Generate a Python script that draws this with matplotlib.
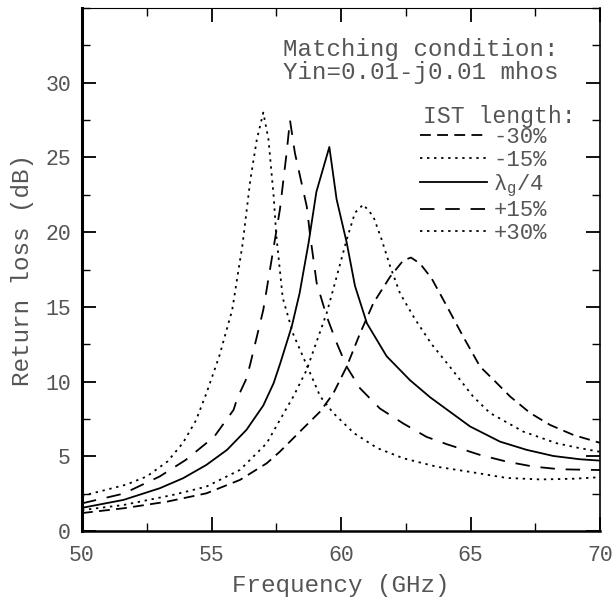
import numpy as np
import matplotlib
matplotlib.use('Agg')
import matplotlib.pyplot as plt
from matplotlib.ticker import MultipleLocator

# return loss curves (frequency in GHz, return loss in dB)
f_p30 = [50.0, 50.8, 51.7, 52.5, 53.3, 53.9, 54.4, 54.8, 55.3, 55.8, 56.2, 56.5, 56.75, 57.0,
         57.2, 57.4, 57.5, 57.75, 58.15, 58.7, 59.2, 59.7, 60.5, 61.4, 62.4, 63.7, 65.0, 66.4,
         67.7, 69.0, 70.0]
rl_p30 = [2.35, 2.7, 3.1, 3.65, 4.65, 5.9, 7.4, 9.2, 11.7, 14.8, 19.2, 23.5, 26.2, 28.0,
          26.2, 22.4, 19.8, 15.6, 13.2, 11.0, 9.0, 7.9, 6.55, 5.55, 4.87, 4.3, 3.95, 3.55,
          3.45, 3.5, 3.6]

f_p15 = [50.0, 51.6, 53.0, 54.0, 55.1, 55.85, 56.0, 56.35, 56.5, 57.0, 57.32, 57.64, 57.9, 58.03,
         58.22, 58.68, 58.8, 59.06, 59.45, 59.83, 60.22, 60.73, 61.5, 62.4, 63.3, 64.1, 65.37,
         66.4, 67.43, 68.46, 70.0]
rl_p15 = [1.85, 2.5, 3.65, 4.75, 6.3, 8.1, 8.9, 10.2, 11.2, 14.8, 18.15, 21.5, 25.3, 27.5,
          25.3, 21.7, 19.9, 16.6, 14.35, 12.6, 11.0, 9.56, 8.2, 7.2, 6.3, 5.8, 5.09,
          4.64, 4.31, 4.13, 4.08]

f_lam = [50.0, 51.6, 53.0, 53.9, 54.8, 55.6, 56.35, 57.0, 57.4, 57.65, 58.1, 58.4, 58.75,
         59.05, 59.55, 59.83, 60.22, 60.54, 61.0, 61.76, 62.66, 63.44, 64.98, 66.14, 67.17,
         68.2, 69.23, 70.0]
rl_lam = [1.55, 2.08, 2.86, 3.53, 4.42, 5.43, 6.77, 8.4, 9.9, 11.2, 13.7, 15.9, 19.3,
          22.7, 25.7, 22.2, 19.3, 16.4, 13.9, 11.7, 10.1, 8.95, 7.0, 5.98, 5.43,
          5.02, 4.8, 4.71]

f_m15 = [50.0, 51.6, 53.5, 54.8, 56.1, 57.13, 57.64, 58.16, 58.68, 59.45, 59.83, 60.22, 60.54,
         60.86, 61.25, 61.57, 61.9, 62.28, 62.85, 63.5, 64.2, 65.1, 65.75, 67.04, 68.33,
         69.23, 70.0]
rl_m15 = [1.4, 1.74, 2.41, 2.97, 4.09, 5.87, 7.43, 9.0, 10.8, 14.6, 17.0, 19.5, 21.3,
          21.85, 21.05, 19.5, 17.7, 15.9, 14.2, 12.5, 11.0, 9.0, 7.9, 6.65, 5.87,
          5.54, 5.3]

f_m30 = [50.0, 51.6, 53.27, 54.8, 56.1, 57.13, 57.64, 58.5, 59.2, 59.7, 60.22, 60.73, 61.25,
         61.89, 62.4, 62.7, 63.05, 63.5, 64.1, 64.72, 65.37, 65.9, 66.53, 67.3, 68.07,
         68.97, 70.0]
rl_m30 = [1.2, 1.52, 1.96, 2.52, 3.42, 4.53, 5.31, 6.8, 8.0, 9.2, 11.0, 13.2, 15.25,
          17.0, 18.1, 18.3, 17.9, 16.9, 15.0, 13.0, 11.0, 10.1, 9.0, 7.9, 7.1,
          6.43, 5.9]

labels = ['-30%', '-15%', r'$\mathregular{\lambda_g}$/4', '+15%', '+30%']

txt = '#555555'
plt.rcParams['font.family'] = ['Liberation Mono', 'DejaVu Sans Mono']
plt.rcParams['mathtext.fontset'] = 'dejavuserif'

W, H = 614, 601
fig = plt.figure(figsize=(W / 100, H / 100), dpi=100)
x0, x1, y0, y1 = 82, 600, 531, 8
ax = fig.add_axes([x0 / W, 1 - y0 / H, (x1 - x0) / W, (y0 - y1) / H])


def axpos(px, py):
    # pixel position in the image -> axes fraction
    return (px - x0) / (x1 - x0), (y0 - py) / (y0 - y1)


lw = 1.3
l1, = ax.plot(f_m30, rl_m30, color='black', lw=lw, dashes=(6, 3.5))
l2, = ax.plot(f_m15, rl_m15, color='black', lw=lw, dashes=(1.3, 2.6))
l3, = ax.plot(f_lam, rl_lam, color='black', lw=lw)
l4, = ax.plot(f_p15, rl_p15, color='black', lw=lw, dashes=(8, 6))
l5, = ax.plot(f_p30, rl_p30, color='black', lw=lw, dashes=(1.3, 2.6))

ax.set_xlim(50, 70)
ax.set_ylim(0, 35)
ax.xaxis.set_major_locator(MultipleLocator(5))
ax.xaxis.set_minor_locator(MultipleLocator(2.5))
ax.yaxis.set_minor_locator(MultipleLocator(2.5))
ax.set_yticks([0, 5, 10, 15, 20, 25, 30])
ax.tick_params(which='both', direction='in', top=True, right=True, colors='black',
               labelcolor=txt, labelsize=15.5)
ax.tick_params(which='major', length=10, width=1.3)
ax.tick_params(which='minor', length=6, width=1.0)
ax.tick_params(axis='x', pad=10)
ax.tick_params(axis='y', pad=8)

ax.spines['left'].set_linewidth(2.2)
ax.spines['bottom'].set_linewidth(1.8)
ax.spines['top'].set_linewidth(0.8)
ax.spines['right'].set_linewidth(1.2)

ax.set_xlabel('Frequency (GHz)', fontsize=17.5, color=txt, labelpad=6)
ax.set_ylabel('Return loss (dB)', fontsize=17.5, color=txt, labelpad=8)

ax.text(*axpos(283, 61), 'Matching condition:\nYin=0.01-j0.01 mhos', transform=ax.transAxes,
        ha='left', va='center', fontsize=17.4, color=txt, linespacing=0.95)
ax.text(*axpos(576, 117), 'IST length:', transform=ax.transAxes,
        ha='right', va='center', fontsize=16.7, color=txt)
leg = ax.legend([l1, l2, l3, l4, l5], labels, loc='upper left',
                bbox_to_anchor=axpos(420, 127), frameon=False, fontsize=16,
                handlelength=3.0, handletextpad=0.3, labelspacing=0.08,
                borderpad=0, borderaxespad=0)
for t in leg.get_texts():
    t.set_color(txt)

plt.savefig('out.png', dpi=100)
plt.close()
